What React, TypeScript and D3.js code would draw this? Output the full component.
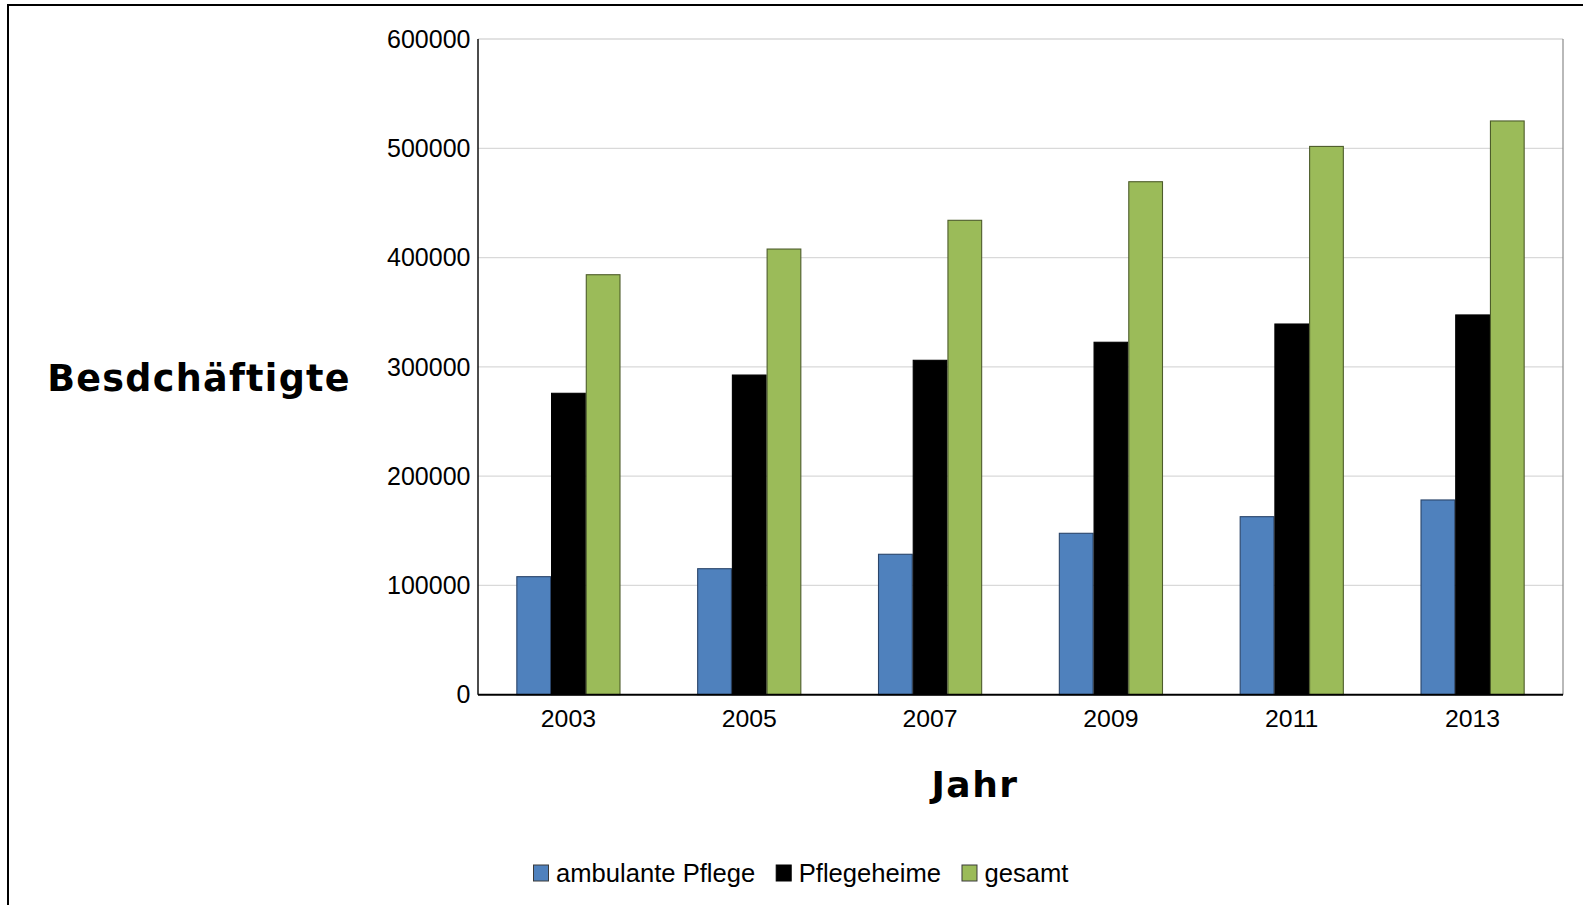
import React, { useEffect, useRef } from "react";
import * as d3 from "d3";

// Employees in care services by year
const years = ["2003", "2005", "2007", "2009", "2011", "2013"];
const seriesNames = ["ambulante Pflege", "Pflegeheime", "gesamt"];
const ambulantePflege = [108000, 115300, 128500, 147700, 162900, 178200];
const pflegeheime = [275800, 292500, 306000, 322500, 339200, 347500];
const gesamt = [384300, 407800, 434100, 469400, 501700, 525000];
const yTicks = [0, 100000, 200000, 300000, 400000, 500000, 600000];

const seriesFill = ["#4f81bd", "#000000", "#9bbb59"];
const seriesStroke = ["#2a456a", "#000000", "#4d5c2b"];

const W = 1583;
const H = 905;

export default function App() {
  const ref = useRef<SVGSVGElement | null>(null);

  useEffect(() => {
    const svg = d3.select(ref.current);
    svg.selectAll("*").remove();

    const values = [ambulantePflege, pflegeheime, gesamt];
    const left = 478;
    const right = 1563;
    const top = 39;
    const bottom = 694.7;

    const x = d3
      .scaleBand<string>()
      .domain(years)
      .range([left, right])
      .paddingInner(0.424)
      .paddingOuter(0.212);
    const xs = d3
      .scaleBand<string>()
      .domain(seriesNames)
      .range([0, x.bandwidth()])
      .padding(0);
    const y = d3.scaleLinear().domain([0, 600000]).range([bottom, top]);

    // outer frame
    svg
      .append("rect")
      .attr("x", 8)
      .attr("y", 5)
      .attr("width", W + 40)
      .attr("height", H + 40)
      .attr("fill", "none")
      .attr("stroke", "#000")
      .attr("stroke-width", 2);

    // gridlines
    svg
      .append("g")
      .selectAll("line")
      .data(yTicks.filter((t) => t > 0))
      .join("line")
      .attr("x1", left)
      .attr("x2", right)
      .attr("y1", (d) => y(d))
      .attr("y2", (d) => y(d))
      .attr("stroke", "#d9d9d9")
      .attr("stroke-width", 1.3);

    // right plot edge
    svg
      .append("line")
      .attr("x1", right)
      .attr("x2", right)
      .attr("y1", top)
      .attr("y2", bottom)
      .attr("stroke", "#8a8a8a")
      .attr("stroke-width", 1.2);

    // bars
    const groups = svg
      .append("g")
      .selectAll("g")
      .data(years)
      .join("g")
      .attr("transform", (d) => `translate(${x(d)},0)`);

    groups
      .selectAll("rect")
      .data((_, i) => seriesNames.map((s, si) => ({ s, si, v: values[si][i] })))
      .join("rect")
      .attr("x", (d) => (xs(d.s) as number) + 0.5)
      .attr("y", (d) => y(d.v))
      .attr("width", xs.bandwidth() - 1)
      .attr("height", (d) => bottom - y(d.v))
      .attr("fill", (d) => seriesFill[d.si])
      .attr("stroke", (d) => seriesStroke[d.si])
      .attr("stroke-width", 1.1);

    // y axis line
    svg
      .append("line")
      .attr("x1", left)
      .attr("x2", left)
      .attr("y1", top)
      .attr("y2", bottom)
      .attr("stroke", "#111")
      .attr("stroke-width", 1.5);

    // baseline
    svg
      .append("line")
      .attr("x1", left)
      .attr("x2", right)
      .attr("y1", bottom)
      .attr("y2", bottom)
      .attr("stroke", "#000")
      .attr("stroke-width", 2);

    // y tick labels
    svg
      .append("g")
      .selectAll("text")
      .data(yTicks)
      .join("text")
      .attr("x", 470.5)
      .attr("y", (d) => y(d))
      .attr("dy", "0.35em")
      .attr("text-anchor", "end")
      .attr("font-family", "Liberation Sans, Arial, sans-serif")
      .attr("font-size", 25)
      .attr("fill", "#000")
      .text((d) => String(d));

    // x tick labels
    svg
      .append("g")
      .selectAll("text")
      .data(years)
      .join("text")
      .attr("x", (d) => (x(d) as number) + x.bandwidth() / 2)
      .attr("y", 726.5)
      .attr("text-anchor", "middle")
      .attr("font-family", "Liberation Sans, Arial, sans-serif")
      .attr("font-size", 24.8)
      .attr("fill", "#000")
      .text((d) => d);

    // axis titles
    svg
      .append("text")
      .attr("x", 199)
      .attr("y", 390.5)
      .attr("text-anchor", "middle")
      .attr("font-family", "DejaVu Sans, sans-serif")
      .attr("font-weight", "bold")
      .attr("font-size", 36.5)
      .attr("letter-spacing", 1.3)
      .attr("fill", "#000")
      .text("Besdchäftigte");

    svg
      .append("text")
      .attr("x", 975)
      .attr("y", 797.3)
      .attr("text-anchor", "middle")
      .attr("font-family", "DejaVu Sans, sans-serif")
      .attr("font-weight", "bold")
      .attr("font-size", 36)
      .attr("letter-spacing", 1.5)
      .attr("fill", "#000")
      .text("Jahr");

    // legend
    const legend = svg.append("g");
    let lx = 533;
    const ly = 873;
    seriesNames.forEach((name, i) => {
      legend
        .append("rect")
        .attr("x", lx + 0.5)
        .attr("y", ly - 8)
        .attr("width", 15)
        .attr("height", 16)
        .attr("fill", seriesFill[i])
        .attr("stroke", i === 1 ? "#000" : "#3a3a3a")
        .attr("stroke-width", 1);
      const t = legend
        .append("text")
        .attr("x", lx + 23)
        .attr("y", ly + 9.2)
        .attr("font-family", "Liberation Sans, Arial, sans-serif")
        .attr("font-size", 25.6)
        .attr("fill", "#000")
        .text(name);
      const w = (t.node() as SVGTextElement).getComputedTextLength();
      lx = lx + 23 + w + 20.5;
    });
  }, []);

  return (
    <svg
      ref={ref}
      width={W}
      height={H}
      style={{ position: "absolute", left: 0, top: 0, background: "#fff" }}
    />
  );
}
